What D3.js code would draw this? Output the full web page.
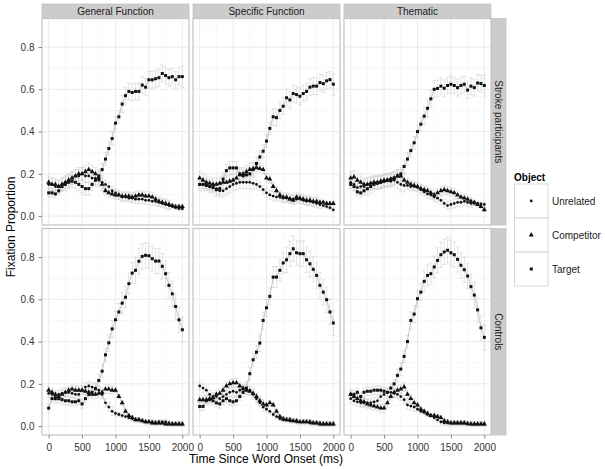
<!DOCTYPE html>
<html><head><meta charset="utf-8">
<script src="https://cdn.jsdelivr.net/npm/d3@7"></script>
<style>
body{margin:0;background:#fff}
text{font-family:"Liberation Sans",Arial,Helvetica,sans-serif}
</style>
</head><body>
<svg id="chart" width="605" height="469"></svg>
<script>
// ---------- categories / ticks ----------
const times = [0,50,100,150,200,250,300,350,400,450,500,550,600,650,700,750,800,850,900,950,1000,1050,1100,1150,1200,1250,1300,1350,1400,1450,1500,1550,1600,1650,1700,1750,1800,1850,1900,1950,2000];
const facetCols = ["General Function","Specific Function","Thematic"];
const facetRows = ["Stroke participants","Controls"];
const objects = ["Unrelated","Competitor","Target"];
const yTicks = [0,0.2,0.4,0.6,0.8];
const xTicks = [0,500,1000,1500,2000];

// ---------- fixation proportions ----------
// Stroke participants
const strokeGF_U = [0.15,0.15,0.14,0.14,0.15,0.16,0.17,0.18,0.19,0.19,0.20,0.19,0.19,0.18,0.18,0.17,0.16,0.15,0.14,0.12,0.11,0.10,0.09,0.09,0.085,0.085,0.08,0.08,0.08,0.075,0.075,0.07,0.07,0.065,0.06,0.055,0.05,0.045,0.04,0.035,0.035];
const strokeGF_C = [0.16,0.15,0.15,0.14,0.15,0.16,0.17,0.18,0.19,0.20,0.20,0.21,0.22,0.21,0.20,0.18,0.15,0.12,0.11,0.105,0.10,0.10,0.095,0.095,0.095,0.09,0.095,0.10,0.10,0.095,0.095,0.09,0.08,0.07,0.065,0.06,0.055,0.05,0.045,0.045,0.045];
const strokeGF_T = [0.11,0.11,0.105,0.12,0.14,0.15,0.16,0.165,0.16,0.15,0.14,0.13,0.13,0.15,0.17,0.19,0.22,0.27,0.32,0.367,0.44,0.47,0.53,0.57,0.59,0.585,0.59,0.59,0.62,0.61,0.645,0.645,0.65,0.655,0.675,0.665,0.655,0.66,0.645,0.66,0.66];
const strokeSF_U = [0.15,0.15,0.15,0.14,0.14,0.13,0.12,0.12,0.13,0.14,0.15,0.155,0.16,0.16,0.16,0.16,0.155,0.15,0.14,0.125,0.11,0.10,0.095,0.09,0.09,0.085,0.085,0.085,0.08,0.08,0.08,0.075,0.07,0.07,0.065,0.06,0.055,0.05,0.045,0.04,0.03];
const strokeSF_C = [0.18,0.17,0.16,0.155,0.15,0.15,0.155,0.16,0.16,0.165,0.17,0.18,0.195,0.20,0.21,0.22,0.225,0.23,0.225,0.22,0.18,0.175,0.14,0.12,0.10,0.09,0.09,0.08,0.075,0.09,0.085,0.08,0.075,0.075,0.07,0.07,0.065,0.065,0.06,0.06,0.06];
const strokeSF_T = [0.15,0.15,0.145,0.14,0.135,0.125,0.13,0.175,0.215,0.228,0.228,0.228,0.2,0.19,0.195,0.2,0.22,0.249,0.28,0.307,0.355,0.415,0.47,0.466,0.5,0.52,0.56,0.55,0.58,0.575,0.567,0.58,0.59,0.61,0.615,0.615,0.632,0.627,0.64,0.646,0.624];
const strokeTH_U = [0.16,0.15,0.135,0.14,0.14,0.15,0.155,0.16,0.16,0.16,0.165,0.17,0.165,0.17,0.16,0.15,0.145,0.145,0.14,0.14,0.135,0.125,0.115,0.105,0.10,0.09,0.085,0.075,0.06,0.05,0.055,0.06,0.065,0.065,0.07,0.065,0.06,0.06,0.06,0.058,0.055];
const strokeTH_C = [0.18,0.185,0.17,0.16,0.15,0.15,0.155,0.16,0.16,0.165,0.17,0.17,0.175,0.18,0.19,0.19,0.17,0.16,0.15,0.145,0.14,0.13,0.125,0.12,0.11,0.10,0.11,0.12,0.125,0.12,0.115,0.11,0.10,0.09,0.085,0.08,0.07,0.065,0.055,0.045,0.03];
const strokeTH_T = [0.15,0.14,0.115,0.11,0.12,0.13,0.14,0.15,0.155,0.16,0.165,0.17,0.175,0.18,0.19,0.2,0.235,0.27,0.31,0.347,0.40,0.435,0.473,0.51,0.555,0.60,0.604,0.615,0.605,0.618,0.624,0.618,0.608,0.618,0.624,0.596,0.615,0.608,0.63,0.627,0.618];
// Controls
const ctrlGF_U = [0.155,0.15,0.14,0.15,0.155,0.16,0.16,0.155,0.15,0.15,0.17,0.185,0.19,0.185,0.18,0.17,0.15,0.11,0.09,0.07,0.06,0.055,0.05,0.045,0.04,0.035,0.03,0.03,0.025,0.02,0.02,0.02,0.015,0.02,0.02,0.02,0.015,0.01,0.01,0.01,0.01];
const ctrlGF_C = [0.17,0.16,0.15,0.14,0.15,0.16,0.17,0.175,0.17,0.17,0.17,0.165,0.16,0.15,0.15,0.155,0.16,0.175,0.175,0.17,0.17,0.14,0.11,0.07,0.05,0.04,0.03,0.03,0.025,0.02,0.02,0.015,0.015,0.015,0.015,0.01,0.01,0.01,0.01,0.01,0.01];
const ctrlGF_T = [0.085,0.13,0.13,0.13,0.125,0.12,0.12,0.115,0.115,0.12,0.105,0.13,0.15,0.16,0.177,0.216,0.26,0.337,0.394,0.46,0.503,0.54,0.582,0.61,0.674,0.724,0.737,0.78,0.803,0.808,0.806,0.792,0.781,0.781,0.756,0.721,0.666,0.626,0.566,0.503,0.456];
const ctrlSF_U = [0.19,0.18,0.17,0.15,0.14,0.14,0.13,0.14,0.15,0.16,0.165,0.16,0.17,0.175,0.175,0.17,0.15,0.13,0.11,0.09,0.08,0.07,0.055,0.045,0.035,0.03,0.03,0.025,0.025,0.02,0.02,0.02,0.02,0.015,0.015,0.015,0.015,0.01,0.01,0.01,0.01];
const ctrlSF_C = [0.125,0.125,0.125,0.13,0.135,0.15,0.155,0.17,0.19,0.2,0.205,0.205,0.19,0.18,0.17,0.165,0.155,0.14,0.12,0.105,0.1,0.11,0.1,0.07,0.045,0.035,0.03,0.03,0.025,0.025,0.02,0.02,0.02,0.02,0.015,0.015,0.01,0.01,0.01,0.01,0.01];
const ctrlSF_T = [0.093,0.093,0.12,0.125,0.12,0.11,0.105,0.12,0.13,0.12,0.115,0.12,0.14,0.16,0.18,0.248,0.314,0.35,0.393,0.5,0.56,0.614,0.705,0.705,0.737,0.772,0.787,0.816,0.839,0.82,0.816,0.816,0.787,0.768,0.742,0.713,0.666,0.634,0.598,0.54,0.488];
const ctrlTH_U = [0.13,0.12,0.115,0.11,0.11,0.11,0.11,0.115,0.12,0.14,0.15,0.16,0.16,0.155,0.15,0.14,0.125,0.10,0.095,0.09,0.08,0.07,0.065,0.055,0.05,0.04,0.03,0.02,0.015,0.015,0.015,0.015,0.015,0.015,0.015,0.01,0.01,0.01,0.01,0.01,0.01];
const ctrlTH_C = [0.15,0.14,0.13,0.12,0.115,0.105,0.1,0.095,0.09,0.085,0.085,0.11,0.14,0.16,0.17,0.175,0.185,0.15,0.13,0.11,0.1,0.08,0.07,0.06,0.05,0.05,0.045,0.04,0.025,0.02,0.015,0.015,0.015,0.015,0.015,0.012,0.01,0.01,0.01,0.01,0.01];
const ctrlTH_T = [0.15,0.15,0.16,0.14,0.16,0.165,0.165,0.17,0.17,0.17,0.165,0.16,0.18,0.2,0.24,0.27,0.33,0.40,0.50,0.53,0.603,0.634,0.685,0.713,0.721,0.753,0.784,0.811,0.824,0.832,0.82,0.811,0.789,0.761,0.74,0.71,0.66,0.62,0.55,0.465,0.42];

// ---------- standard errors (in hundredths of proportion) ----------
const seStrokeLow  = [3,3,3,3,3,3,3,3,3,3,3,3,3,3,3,3,3,2,2,2,2,2,2,2,2,2,2,2,2,2,2,2,2,2,2,2,2,1,1,1,1];
const seStrokeTgt  = [2,2,2,2,2,3,3,3,3,3,3,3,3,3,3,3,3,3,3,3,3,3,4,4,4,4,4,4,4,4,4,4,4,4,4,4,4,4,4,4,5];
const seCtrlLow    = [2,2,2,2,2,2,2,2,2,2,2,2,2,2,2,2,2,2,2,2,1,1,1,1,1,1,1,1,1,1,1,1,1,1,1,1,1,1,1,1,1];
const seCtrlTgt    = [2,2,2,2,2,2,2,2,2,2,2,2,2,2,3,3,3,3,4,4,4,4,5,5,5,5,6,6,6,6,6,6,6,6,6,6,6,6,6,6,6];

const panels = [
  {row:0,col:0,U:strokeGF_U,C:strokeGF_C,T:strokeGF_T,seL:seStrokeLow,seT:seStrokeTgt},
  {row:0,col:1,U:strokeSF_U,C:strokeSF_C,T:strokeSF_T,seL:seStrokeLow,seT:seStrokeTgt},
  {row:0,col:2,U:strokeTH_U,C:strokeTH_C,T:strokeTH_T,seL:seStrokeLow,seT:seStrokeTgt},
  {row:1,col:0,U:ctrlGF_U,C:ctrlGF_C,T:ctrlGF_T,seL:seCtrlLow,seT:seCtrlTgt},
  {row:1,col:1,U:ctrlSF_U,C:ctrlSF_C,T:ctrlSF_T,seL:seCtrlLow,seT:seCtrlTgt},
  {row:1,col:2,U:ctrlTH_U,C:ctrlTH_C,T:ctrlTH_T,seL:seCtrlLow,seT:seCtrlTgt}
];

// ---------- layout ----------
const svg = d3.select("#chart");
const colX = [42,193,344], colW = 147;
const rowY = [18.5,228.5], rowH = 206.5;
const x = d3.scaleLinear().domain([-100,2100]).range([0,colW]);
const y = d3.scaleLinear().domain([-0.042,0.935]).range([rowH,0]);
const shapes = {Unrelated:d3.symbolCircle, Competitor:d3.symbolTriangle, Target:d3.symbolSquare};
const sizes = {Unrelated:6, Competitor:11, Target:9};

svg.append("rect").attr("width",605).attr("height",469).attr("fill","#fff");

panels.forEach(p=>{
  const g = svg.append("g").attr("transform",`translate(${colX[p.col]},${rowY[p.row]})`);
  g.append("rect").attr("width",colW).attr("height",rowH).attr("fill","#fff");
  // minor grid
  const minorX = [250,750,1250,1750], minorY=[0.1,0.3,0.5,0.7,0.9];
  g.selectAll(".mx").data(minorX).enter().append("line")
    .attr("x1",d=>x(d)).attr("x2",d=>x(d)).attr("y1",0).attr("y2",rowH)
    .attr("stroke","#f3f3f3").attr("stroke-width",0.6);
  g.selectAll(".my").data(minorY).enter().append("line")
    .attr("y1",d=>y(d)).attr("y2",d=>y(d)).attr("x1",0).attr("x2",colW)
    .attr("stroke","#f3f3f3").attr("stroke-width",0.6);
  g.selectAll(".gx").data(xTicks).enter().append("line")
    .attr("x1",d=>x(d)).attr("x2",d=>x(d)).attr("y1",0).attr("y2",rowH)
    .attr("stroke","#e6e6e6").attr("stroke-width",0.8);
  g.selectAll(".gy").data(yTicks).enter().append("line")
    .attr("y1",d=>y(d)).attr("y2",d=>y(d)).attr("x1",0).attr("x2",colW)
    .attr("stroke","#e6e6e6").attr("stroke-width",0.8);

  const series = [
    {name:"Unrelated", v:p.U, se:p.seL},
    {name:"Competitor", v:p.C, se:p.seL},
    {name:"Target", v:p.T, se:p.seT}
  ];
  // error bars
  series.forEach(s=>{
    const pts = times.map((t,i)=>({t, v:s.v[i], e:s.se[i]/100}));
    const eg = g.append("g").attr("stroke","#c8c8c8").attr("stroke-width",0.5).attr("fill","none");
    pts.forEach(d=>{
      const cx = x(d.t), y1 = y(d.v-d.e), y2 = y(d.v+d.e);
      eg.append("line").attr("x1",cx).attr("x2",cx).attr("y1",y1).attr("y2",y2);
      eg.append("line").attr("x1",cx-2).attr("x2",cx+2).attr("y1",y1).attr("y2",y1);
      eg.append("line").attr("x1",cx-2).attr("x2",cx+2).attr("y1",y2).attr("y2",y2);
    });
  });
  // lines
  series.forEach(s=>{
    const line = d3.line().x((d,i)=>x(times[i])).y(d=>y(d));
    g.append("path").attr("d",line(s.v)).attr("fill","none")
      .attr("stroke","#a0a0a0").attr("stroke-width",0.6);
  });
  // points
  series.forEach(s=>{
    g.selectAll(null).data(s.v).enter().append("path")
      .attr("d",d3.symbol().type(shapes[s.name]).size(sizes[s.name]))
      .attr("transform",(d,i)=>`translate(${x(times[i])},${y(d)})`)
      .attr("fill","#111");
  });
  // border
  g.append("rect").attr("width",colW).attr("height",rowH).attr("fill","none")
    .attr("stroke","#c4c4c4").attr("stroke-width",1.2);

  // axes
  if(p.col===0){
    const ax = g.append("g").call(d3.axisLeft(y).tickValues(yTicks).tickSize(3.5).tickPadding(4).tickFormat(d3.format(".1f")));
    ax.select(".domain").remove();
    ax.selectAll("line").attr("stroke","#888");
    ax.selectAll("text").attr("font-size",10).attr("fill","#333").attr("font-family","Liberation Sans, Arial, sans-serif");
  }
  if(p.row===1){
    const ax = g.append("g").attr("transform",`translate(0,${rowH})`)
      .call(d3.axisBottom(x).tickValues(xTicks).tickSize(3.5).tickPadding(5).tickFormat(d3.format("d")));
    ax.select(".domain").remove();
    ax.selectAll("line").attr("stroke","#888");
    ax.selectAll("text").attr("font-size",10).attr("fill","#333").attr("font-family","Liberation Sans, Arial, sans-serif");
  }
});

// top strips
facetCols.forEach((name,c)=>{
  svg.append("rect").attr("x",colX[c]).attr("y",4).attr("width",colW).attr("height",14.5)
    .attr("fill","#cccccc").attr("stroke","#c4c4c4").attr("stroke-width",0.8);
  svg.append("text").attr("x",colX[c]+colW/2).attr("y",11.5).attr("text-anchor","middle")
    .attr("dominant-baseline","central").attr("font-size",10).attr("fill","#1a1a1a").text(name);
});
// right strips
facetRows.forEach((name,r)=>{
  const sx = colX[2]+colW+0.5;
  svg.append("rect").attr("x",sx).attr("y",rowY[r]).attr("width",14.5).attr("height",rowH)
    .attr("fill","#cccccc").attr("stroke","#c4c4c4").attr("stroke-width",0.8);
  svg.append("text").attr("transform",`translate(${sx+7.25},${rowY[r]+rowH/2}) rotate(90)`)
    .attr("text-anchor","middle").attr("dominant-baseline","central")
    .attr("font-size",10).attr("fill","#1a1a1a").text(name);
});

// axis titles
svg.append("text").attr("x",266).attr("y",463).attr("text-anchor","middle")
  .attr("font-size",12).attr("fill","#000").text("Time Since Word Onset (ms)");
svg.append("text").attr("transform","translate(14.5,227) rotate(-90)").attr("text-anchor","middle")
  .attr("font-size",12).attr("fill","#000").text("Fixation Proportion");

// legend
const lg = svg.append("g").attr("transform","translate(514,0)");
lg.append("text").attr("x",0).attr("y",181).attr("font-size",10).attr("font-weight","bold").text("Object");
objects.forEach((name,i)=>{
  const ky = 184 + i*34;
  lg.append("rect").attr("x",0.5).attr("y",ky).attr("width",33.5).attr("height",34)
    .attr("fill","#fff").attr("stroke","#d0d0d0").attr("stroke-width",0.8);
  lg.append("path").attr("d",d3.symbol().type(shapes[name]).size(sizes[name]))
    .attr("transform",`translate(17.25,${ky+17})`).attr("fill","#111");
  lg.append("text").attr("x",38).attr("y",ky+17).attr("dominant-baseline","central")
    .attr("font-size",10).attr("fill","#1a1a1a").text(name);
});
</script>
</body></html>
